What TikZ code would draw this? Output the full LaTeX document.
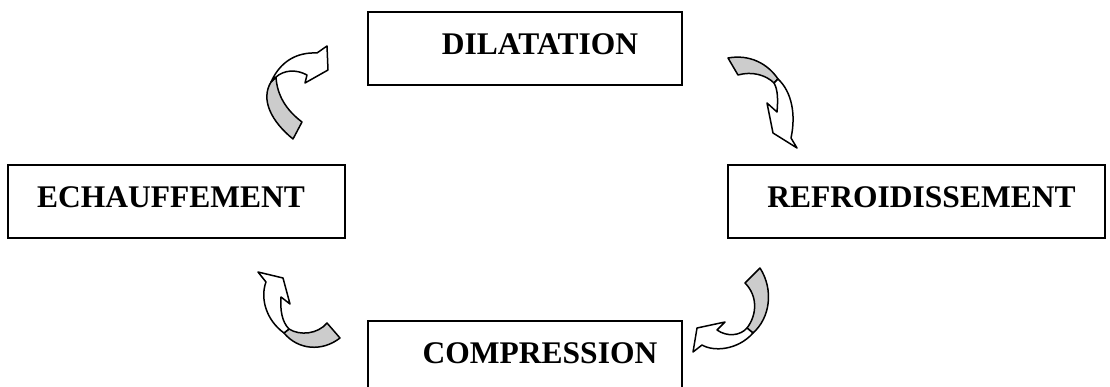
\documentclass[tikz,border=0pt]{standalone}
\usepackage{fontspec}
\setmainfont{Liberation Serif}
\definecolor{ribbongray}{RGB}{204,204,204}

\begin{document}
\begin{tikzpicture}[
    x=1pt, y=-1pt,
    stage/.style={rectangle, draw, line width=1.6pt, minimum height=73pt, inner sep=0pt, text height=21pt, text depth=9pt, font=\fontsize{31.5}{36}\selectfont\bfseries},
    backband/.style={draw, fill=ribbongray, line width=1.5pt, line join=round},
    frontband/.style={draw, fill=white, line width=1.5pt, line join=round}
]
\useasboundingbox (0,0) rectangle (1110,387);

% les quatre etapes
\node[stage, minimum width=314pt] (dilatation) at (525,48.5) {\hspace*{30pt}DILATATION};
\node[stage, minimum width=337pt] (echauffement) at (176.5,201.5) {ECHAUFFEMENT\hspace*{11pt}};
\node[stage, minimum width=377pt] (refroidissement) at (916.5,201.5) {\hspace*{10pt}REFROIDISSEMENT};
\node[stage, minimum width=314pt] (compression) at (525,357.5) {\hspace*{30pt}COMPRESSION};

% fleche courbe : echauffement -> dilatation
\filldraw[backband] (293,139) .. controls (272,122) and (260,100) .. (271,82) -- (276,77)
    .. controls (277,95) and (286,110) .. (302,122) -- cycle;
\filldraw[frontband] (271,82) .. controls (280,62) and (296,52) .. (317,53) -- (327,46) -- (328,70)
    -- (305,83) -- (307,75) .. controls (296,69) and (284,70) .. (276,77) -- cycle;

% fleche courbe : dilatation -> refroidissement
\filldraw[backband] (728,58) .. controls (750,54) and (768,64) .. (778,79) -- (774,83)
    .. controls (766,75) and (752,71) .. (738,75) -- cycle;
\filldraw[frontband] (778,79) .. controls (792,92) and (796,115) .. (791,138) -- (797,148) -- (773,133)
    -- (767,103) -- (777,112) .. controls (778,100) and (778,90) .. (774,83) -- cycle;

% fleche courbe : refroidissement -> compression
\filldraw[backband] (760,268) .. controls (774,290) and (770,318) .. (753,333) -- (747,328)
    .. controls (757,315) and (758,296) .. (745,283) -- cycle;
\filldraw[frontband] (753,333) .. controls (738,350) and (714,352) .. (702,345) -- (693,352) -- (697,328)
    -- (725,322) -- (717,330) .. controls (727,337) and (740,336) .. (747,328) -- cycle;

% fleche courbe : compression -> echauffement
\filldraw[backband] (340,338) .. controls (322,352) and (298,350) .. (284,333) -- (289,329)
    .. controls (300,336) and (318,334) .. (327,323) -- cycle;
\filldraw[frontband] (284,333) .. controls (266,320) and (260,298) .. (266,282) -- (258,272) -- (283,278)
    -- (290,304) -- (281,297) .. controls (280,310) and (282,322) .. (289,329) -- cycle;

\end{tikzpicture}
\end{document}
